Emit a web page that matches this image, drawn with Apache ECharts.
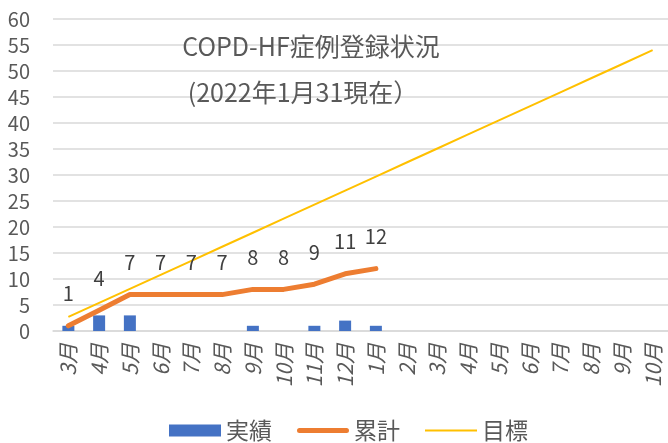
<!DOCTYPE html>
<html><head><meta charset="utf-8">
<script src="https://cdn.jsdelivr.net/npm/echarts@6/dist/echarts.min.js"></script>
<style>html,body{margin:0;padding:0;background:#fff}#c{width:668px;height:443px}</style>
</head><body><div id="c"></div>
<script>
const categories = ['3月','4月','5月','6月','7月','8月','9月','10月','11月','12月','1月','2月','3月','4月','5月','6月','7月','8月','9月','10月'];
const actual = [1,3,3,0,0,0,1,0,1,2,1];
const cumulative = [1,4,7,7,7,7,8,8,9,11,12];
const target = [2.7,5.4,8.1,10.8,13.5,16.2,18.9,21.6,24.3,27,29.7,32.4,35.1,37.8,40.5,43.2,45.9,48.6,51.3,54];
const yTicks = {min:0, max:60, interval:5};
const titleLines = ['COPD-HF症例登録状況','(2022年1月31現在）'];

const FONT = '"Noto Sans CJK JP","Noto Sans",sans-serif';
const thick = 'path://M0,0L0.01,0L0.01,0.01ZM0,14L0.01,14L0.01,13.99ZM2.5,4.5L49.5,4.5A2.5,2.5,0,0,1,49.5,9.5L2.5,9.5A2.5,2.5,0,0,1,2.5,4.5Z';
const thin = 'path://M0,0L0.01,0L0.01,0.01ZM0,14L0.01,14L0.01,13.99ZM0,6L52,6L52,8L0,8Z';
const barIcon = 'path://M0,0L0.01,0L0.01,0.01ZM0,14L0.01,14L0.01,13.99ZM0,1L52,1L52,13L0,13Z';
const chart = echarts.init(document.getElementById('c'), null, {renderer:'canvas'});
chart.setOption({
  animation:false,
  textStyle:{fontFamily:FONT},
  title:[
    {text:titleLines[0], left:306, top:29, textAlign:'center', textStyle:{fontSize:25, fontWeight:'normal', color:'#595959', fontFamily:FONT}},
    {text:titleLines[1], left:298, top:75, textAlign:'center', textStyle:{fontSize:25, fontWeight:'normal', color:'#595959', fontFamily:FONT}}
  ],
  grid:{left:53, top:19, width:621, bottom:112, containLabel:false},
  legend:{
    top:414, left:164, itemWidth:52, itemHeight:14, itemGap:25,
    textStyle:{fontSize:23, color:'#595959', fontFamily:FONT},
    data:[{name:'実績', icon:barIcon},{name:'累計', icon:thick},{name:'目標', icon:thin}]
  },
  xAxis:{
    type:'category', data:categories, boundaryGap:true,
    axisLine:{show:true, lineStyle:{color:'#d9d9d9', width:1.5}},
    axisTick:{show:false},
    axisLabel:{rotate:90, interval:0, fontSize:21, fontStyle:'italic', color:'#595959', margin:12, fontFamily:FONT}
  },
  yAxis:{
    type:'value', min:yTicks.min, max:yTicks.max, interval:yTicks.interval,
    axisLine:{show:false}, axisTick:{show:false},
    axisLabel:{fontSize:20, color:'#595959', margin:23, fontFamily:FONT},
    splitLine:{lineStyle:{color:'#d9d9d9', width:1.5}}
  },
  series:[
    {name:'実績', type:'bar', data:actual, barWidth:12, itemStyle:{color:'#4472C4'}, z:2},
    {name:'累計', type:'line', data:cumulative, symbol:'circle', symbolSize:2, showSymbol:true,
     lineStyle:{color:'#ED7D31', width:5, cap:'round', join:'round'}, itemStyle:{color:'#ED7D31'},
     label:{show:true, position:'top', distance:21, fontSize:20, color:'#404040', fontFamily:FONT}, z:4},
    {name:'目標', type:'line', data:target, symbol:'none', showSymbol:false,
     lineStyle:{color:'#FFC000', width:2}, itemStyle:{color:'#FFC000'}, z:3}
  ]
});
</script></body></html>
